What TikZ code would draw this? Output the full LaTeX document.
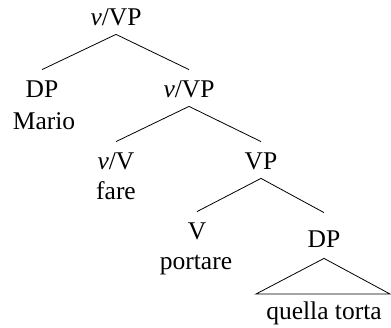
\documentclass[tikz,border=0pt]{standalone}
\usepackage{fontspec}
\setmainfont{Liberation Serif}
\begin{document}
\begin{tikzpicture}[x=1pt,y=-1pt,line width=0.8pt,
  every node/.style={anchor=base,inner sep=0pt,text height=28pt,text depth=8pt,
    font=\fontsize{25.5pt}{30pt}\selectfont}]
\useasboundingbox (0,0) rectangle (391,328);
\node (vp1) at (116,26) {\textit{v}/VP};
\node (dp1) at (42,98) {DP};
\node (mario) at (44,130) {Mario};
\node (vp2) at (189,98) {\textit{v}/VP};
\node (vv) at (116,170) {\textit{v}/V};
\node (fare) at (116,200) {fare};
\node (vp3) at (261,170) {VP};
\node (v) at (197,240) {V};
\node (portare) at (196,270) {portare};
\node[text height=35pt,text depth=10pt] (dp2) at (324,248) {DP};
\node (quella) at (324,320) {quella torta};
\coordinate (roofl) at (256,294);
\coordinate (roofr) at (390,294);
\draw (vp1.south)--(dp1.north) (vp1.south)--(vp2.north);
\draw (vp2.south)--(vv.north) (vp2.south)--(vp3.north);
\draw (vp3.south)--(v.north) (vp3.south)--(dp2.north);
\draw (dp2.south)--(roofl)--(roofr)--cycle;
\end{tikzpicture}
\end{document}
